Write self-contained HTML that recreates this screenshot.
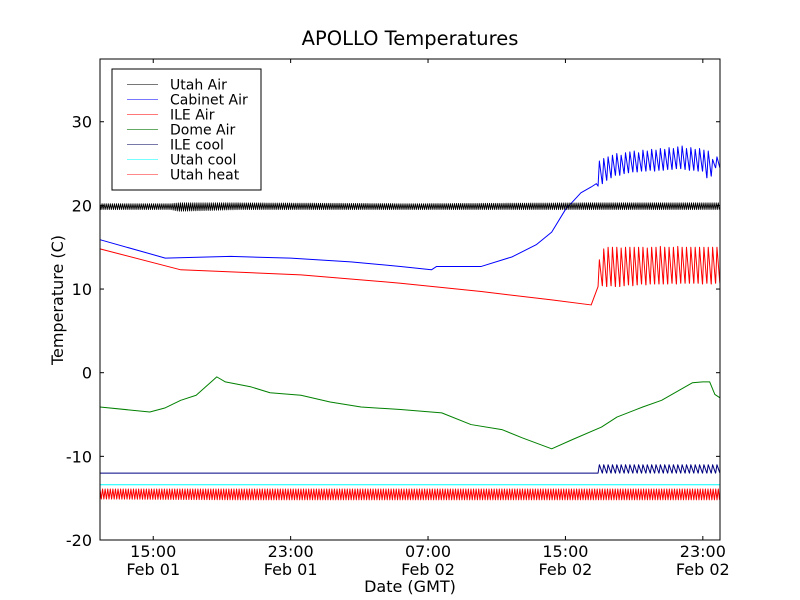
<!DOCTYPE html>
<html><head><meta charset="utf-8"><style>
body{margin:0;background:#fff}
svg{display:block;font-family:"DejaVu Sans","Liberation Sans",sans-serif}
</style></head><body>
<svg id="chart" width="800" height="600" viewBox="0 0 800 600" xmlns="http://www.w3.org/2000/svg">
<rect width="800" height="600" fill="#fff"/>
<text x="410" y="45" font-size="19.5" text-anchor="middle">APOLLO Temperatures</text>
<text transform="translate(63,300) rotate(-90)" font-size="16" text-anchor="middle">Temperature (C)</text>
<text x="410" y="592" font-size="16" text-anchor="middle">Date (GMT)</text>
<g id="series"></g>
<g id="axes"></g>
<g id="legend"></g>
</svg>
<script>
// ---- data (hours since Feb 01 00:00 GMT, temperature in C) ----
const xTickHours = [15, 23, 31, 39, 47];
const xTickTimes = ["15:00", "23:00", "07:00", "15:00", "23:00"];
const xTickDates = ["Feb 01", "Feb 01", "Feb 02", "Feb 02", "Feb 02"];
const yTicks = [-20, -10, 0, 10, 20, 30];
const seriesNames = ["Utah Air", "Cabinet Air", "ILE Air", "Dome Air", "ILE cool", "Utah cool", "Utah heat"];

const cabinetTimes = [11.9, 15.7, 19.5, 23.0, 26.5, 29.4, 31.2, 31.5, 34.1, 35.9, 37.3, 38.2, 39.0, 39.9, 40.5, 40.8];
const cabinetValues = [15.9, 13.7, 13.9, 13.7, 13.25, 12.7, 12.3, 12.7, 12.7, 13.85, 15.3, 16.8, 19.5, 21.5, 22.2, 22.6];
const cabinetPeaks = [25.3,25.6,25.8,26.0,26.2,26.0,26.3,26.4,26.5,26.3,26.6,26.5,26.7,26.6,26.8,26.7,26.9,26.8,27.0,27.1,26.8,26.9,26.7,26.8,26.6,26.5,25.5,25.8];
const cabinetTroughs = [22.3,22.6,23.0,23.3,23.6,23.6,23.8,23.9,24.0,24.0,24.1,24.1,24.2,24.1,24.2,24.2,24.3,24.3,24.4,24.4,24.3,24.2,24.2,24.1,24.1,23.3,23.5,24.5];

const ileAirTimes = [11.9, 16.6, 23.6, 29.4, 34.1, 38.2, 40.5];
const ileAirValues = [14.8, 12.3, 11.7, 10.7, 9.7, 8.7, 8.1];
const ileAirPeaks = [13.5,14.8,15.0,15.0,15.0,14.9,15.0,15.0,15.0,15.0,15.0,14.9,15.0,15.0,15.1,15.0,15.0,15.0,15.1,15.0,15.0,15.0,15.0,15.0,15.0,15.0,15.0,15.0];
const ileAirTroughs = [10.3,10.4,10.3,10.4,10.3,10.3,10.4,10.5,10.4,10.5,10.6,10.5,10.6,10.6,10.6,10.6,10.6,10.7,10.6,10.7,10.7,10.7,10.7,10.7,10.6,10.7,10.6,10.7];

const domeTimes = [11.9, 14.8, 15.7, 16.6, 17.5, 18.7, 19.2, 20.7, 21.8, 23.6, 25.3, 27.1, 29.4, 31.8, 33.5, 35.3, 36.5, 38.2, 39.4, 41.1, 42.0, 43.5, 44.6, 46.4, 47.0, 47.4, 47.7, 48.0];
const domeValues = [-4.1, -4.7, -4.2, -3.3, -2.7, -0.5, -1.1, -1.7, -2.4, -2.7, -3.5, -4.1, -4.4, -4.8, -6.2, -6.8, -7.8, -9.1, -8.0, -6.5, -5.3, -4.1, -3.3, -1.2, -1.1, -1.1, -2.6, -3.0];

const ileCoolBase = -12.0;
const ileCoolPeaks = [-11.0,-11.0,-11.0,-11.0,-11.0,-11.0,-11.0,-11.0,-11.0,-11.0,-11.0,-11.0,-11.0,-11.0,-11.0,-11.0,-11.0,-11.0,-11.0,-11.0,-11.0,-11.0,-11.0,-11.0,-11.0,-11.0,-11.0,-11.0];
const cycleStart = 40.9;
const cycleEnd = 48.0;

const utahCool = -13.4;
const utahAirTimes = [11.9, 16.0, 16.5, 20.0, 30.0, 40.0, 48.0];
const utahAirMax = [20.2, 20.2, 20.3, 20.3, 20.2, 20.3, 20.3];
const utahAirMin = [19.5, 19.5, 19.3, 19.5, 19.5, 19.5, 19.5];
const utahHeatTimes = [11.9, 20.0, 30.0, 40.0, 48.0];
const utahHeatMax = [-13.9, -13.9, -13.9, -13.9, -13.9];
const utahHeatMin = [-15.1, -15.2, -15.2, -15.2, -15.2];

// ---- axes ----
const L = 100, R = 720, T = 59, B = 540;
const xMin = 11.9, xMax = 48.0, yMin = -20, yMax = 37.5;
const xs = h => L + (h - xMin) / (xMax - xMin) * (R - L);
const ys = v => B - (v - yMin) / (yMax - yMin) * (B - T);
const NS = "http://www.w3.org/2000/svg";
function mk(tag, attrs, parent) {
  const e = document.createElementNS(NS, tag);
  for (const k in attrs) e.setAttribute(k, attrs[k]);
  parent.appendChild(e);
  return e;
}
const gS = document.getElementById('series');
const gA = document.getElementById('axes');
const gL = document.getElementById('legend');

function interp(ts, vs, t) {
  if (t <= ts[0]) return vs[0];
  for (let i = 1; i < ts.length; i++) if (t <= ts[i]) {
    const f = (t - ts[i-1]) / (ts[i] - ts[i-1]);
    return vs[i-1] + f * (vs[i] - vs[i-1]);
  }
  return vs[vs.length - 1];
}
function polyline(pts, color, name, w) {
  const p = mk('polyline', {points: pts.map(q => xs(q[0]).toFixed(2) + ',' + ys(q[1]).toFixed(2)).join(' '), fill: 'none', stroke: color, 'stroke-width': w || 1, 'stroke-linejoin': 'round'}, gS);
  
  
}
function band(ts, mx, mn, step) {
  const pts = []; let up = true;
  for (let t = ts[0]; t <= ts[ts.length-1]; t += step) {
    pts.push([t, up ? interp(ts, mx, t) : interp(ts, mn, t)]); up = !up;
  }
  return pts;
}
function cycles(peaks, troughs) {
  const n = peaks.length, dt = (cycleEnd - cycleStart) / n, pts = [];
  for (let i = 0; i < n; i++) {
    const t0 = cycleStart + i * dt;
    pts.push([t0, troughs[i]]);
    pts.push([t0 + dt * 0.3, peaks[i]]);
    pts.push([t0 + dt * 0.97, troughs[Math.min(i + 1, n - 1)]]);
  }
  return pts;
}

polyline(band(utahHeatTimes, utahHeatMax, utahHeatMin, 0.075), '#ff0000', 'utah-heat-line');
polyline([[xMin, utahCool], [xMax, utahCool]], '#00ffff', 'utah-cool-line');
polyline([[xMin, ileCoolBase], [cycleStart, ileCoolBase]].concat(cycles(ileCoolPeaks, ileCoolPeaks.map(() => ileCoolBase))), '#000080', 'ile-cool-line');
polyline(domeTimes.map((t, i) => [t, domeValues[i]]), '#008000', 'dome-air-line');
polyline(ileAirTimes.map((t, i) => [t, ileAirValues[i]]).concat(cycles(ileAirPeaks, ileAirTroughs)), '#ff0000', 'ile-air-line');
polyline(cabinetTimes.map((t, i) => [t, cabinetValues[i]]).concat(cycles(cabinetPeaks, cabinetTroughs)), '#0000ff', 'cabinet-air-line');
polyline(band(utahAirTimes, utahAirMax, utahAirMin, 0.06), '#000000', 'utah-air-line', 0.9);

const fr = mk('rect', {x: L, y: T, width: R - L, height: B - T, fill: 'none', stroke: '#000', 'stroke-width': 1}, gA);


yTicks.forEach(v => {
  const y = ys(v);
  mk('line', {x1: L, x2: L + 4, y1: y, y2: y, stroke: '#000'}, gA);
  mk('line', {x1: R, x2: R - 4, y1: y, y2: y, stroke: '#000'}, gA);
  const t = mk('text', {x: L - 8, y: y + 6, 'font-size': 16, 'text-anchor': 'end'}, gA);
  t.textContent = v;
  
  
});
xTickHours.forEach((h, i) => {
  const x = xs(h);
  mk('line', {x1: x, x2: x, y1: B, y2: B - 4, stroke: '#000'}, gA);
  mk('line', {x1: x, x2: x, y1: T, y2: T + 4, stroke: '#000'}, gA);
  const t1 = mk('text', {x: x, y: 557, 'font-size': 16, 'text-anchor': 'middle'}, gA);
  t1.textContent = xTickTimes[i];
  
  
  const t2 = mk('text', {x: x, y: 575, 'font-size': 16, 'text-anchor': 'middle'}, gA);
  t2.textContent = xTickDates[i];
  
  
});

const legColors = ['#777777', '#7777ff', '#ff7777', '#66aa66', '#7777aa', '#77ffff', '#ff8888'];
const lb = mk('rect', {x: 112, y: 69, width: 149, height: 121, fill: '#fff', stroke: '#000'}, gL);


seriesNames.forEach((n, i) => {
  const y = 84.5 + i * 15;
  const ln = mk('line', {x1: 127, x2: 158, y1: y, y2: y, stroke: legColors[i]}, gL);
  
  
  const t = mk('text', {x: 170, y: y + 5, 'font-size': 14}, gL);
  t.textContent = n;
  
  
});
</script>
</body></html>
